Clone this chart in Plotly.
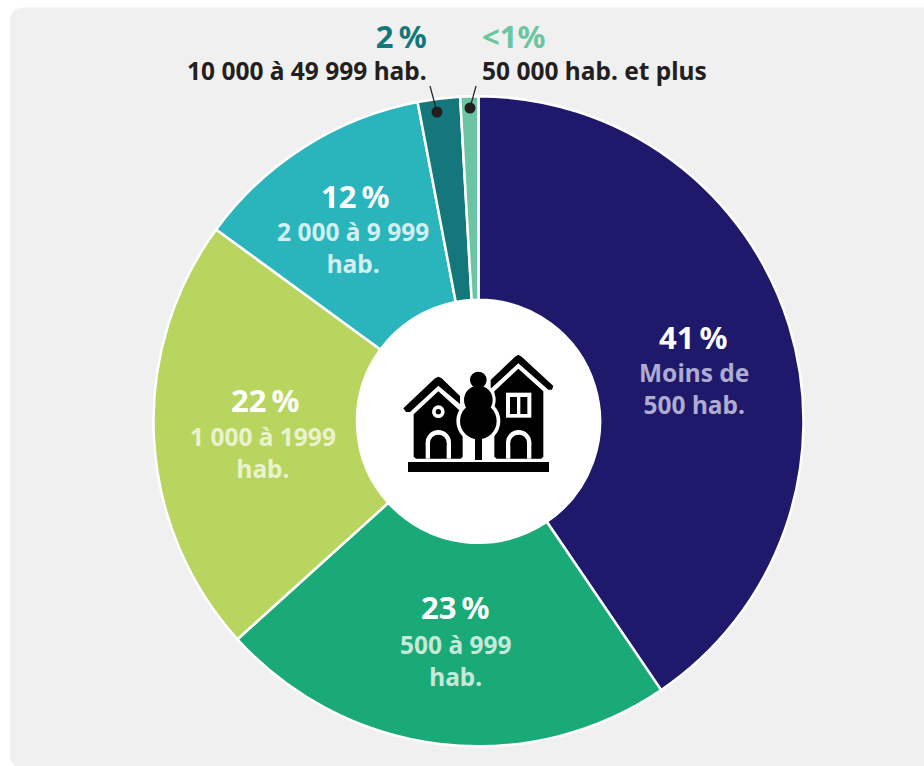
import plotly.graph_objects as go

categories = ["Moins de 500 hab.", "500 à 999 hab.", "1 000 à 1999 hab.", "2 000 à 9 999 hab.",
              "10 000 à 49 999 hab.", "50 000 hab. et plus"]
values = [40.5, 22.8, 21.75, 11.95, 2.1, 0.9]
colors = ["#1e196a", "#1aaa77", "#b8d560", "#2ab5bd", "#13777c", "#6cc5a2"]

W, H = 924, 766
CX, CY, R = 478.5, 421.3, 325.0
HOLE_R = 121.5
FONT = "Noto Sans"
BG = "#f0f0f0"
DARK = "#231f20"
THIN = "\u2009"
BIG, SMALL = 31, 24.5


def px(x):
    return x / W


def py(y):
    return 1 - y / H


def ann(text, x, y, color, size, anchor="center"):
    return dict(text=text, x=px(x), y=py(y), xref="paper", yref="paper", showarrow=False,
                xanchor=anchor, yanchor="middle", align=anchor,
                font=dict(family=FONT, size=size, color=color, weight=700))


def sub_label(line1, line2, x, y, color):
    return ann(f"{line1}<br>{line2}", x, y, color, SMALL)


def top_label(pct, label, pct_color, x, anchor):
    text = f"<span style='font-size:{BIG}px;color:{pct_color}'>{pct}</span><br>{label}"
    return ann(text, x, 51.5, DARK, SMALL, anchor)


def poly(points, fill):
    """Icon polygon, given in the 3x crop's coordinates around (360, 320)."""
    d = ""
    for i, (x, y) in enumerate(points):
        d += f"{'M' if i == 0 else 'L'}{px(360 + x / 3):.5f},{py(320 + y / 3):.5f} "
    return dict(type="path", path=d + "Z", xref="paper", yref="paper", fillcolor=fill,
                line=dict(width=0), layer="above")


def circle(cx, cy, r, fill, layer="above"):
    x, y = 360 + cx / 3, 320 + cy / 3
    r = r / 3
    return dict(type="circle", xref="paper", yref="paper", x0=px(x - r), x1=px(x + r),
                y0=py(y + r), y1=py(y - r), fillcolor=fill, line=dict(width=0), layer=layer)


def arch(x0, x1, top, bottom, fill):
    r = (x1 - x0) / 2
    cx = (x0 + x1) / 2
    return [poly([(x0, top + r), (x1, top + r), (x1, bottom), (x0, bottom)], fill),
            circle(cx, top + r, r, fill)]


shapes = []
# card background
x0, y0, x1, y1, r = 10, 7.5, 940, 768, 14
shapes.append(dict(
    type="path", xref="paper", yref="paper", fillcolor=BG, line=dict(width=0), layer="below",
    path=(f"M{px(x0 + r)},{py(y0)} L{px(x1)},{py(y0)} L{px(x1)},{py(y1)} L{px(x0 + r)},{py(y1)} "
          f"Q{px(x0)},{py(y1)} {px(x0)},{py(y1 - r)} "
          f"L{px(x0)},{py(y0 + r)} Q{px(x0)},{py(y0)} {px(x0 + r)},{py(y0)} Z")))
# white centre
shapes.append(dict(type="circle", xref="paper", yref="paper", x0=px(CX - HOLE_R), x1=px(CX + HOLE_R),
                   y0=py(CY + HOLE_R), y1=py(CY - HOLE_R), fillcolor="white", line=dict(width=0),
                   layer="below"))

K, WT = "black", "white"
# ground
shapes.append(poly([(144, 426), (567, 426), (567, 456), (144, 456)], K))
# left house
shapes.append(poly([(130, 265), (225, 175), (235, 170), (245, 175), (300, 228), (300, 252), (235, 197),
                    (150, 276), (138, 276)], K))
shapes.append(poly([(161, 283), (235, 214), (308, 280), (308, 410), (302, 416), (168, 416), (161, 410)], K))
shapes += arch(197, 273, 330, 416, WT)
shapes += arch(210, 260, 344, 416, K)
shapes.append(circle(235, 275, 19, WT))
shapes.append(circle(235, 275, 8, K))
# right house
shapes.append(poly([(392, 180), (465, 110), (475, 104), (485, 110), (580, 198), (576, 209), (565, 209),
                    (475, 130), (392, 206)], K))
shapes.append(poly([(403, 214), (475, 146), (550, 214), (550, 410), (544, 416), (410, 416), (403, 410)], K))
shapes.append(poly([(438, 218), (514, 218), (514, 293), (438, 293)], WT))
shapes.append(poly([(450, 231), (471, 231), (471, 282), (450, 282)], K))
shapes.append(poly([(481, 231), (502, 231), (502, 282), (481, 282)], K))
shapes += arch(438, 514, 330, 416, WT)
shapes += arch(451, 501, 344, 416, K)
# tree
shapes.append(circle(355, 180, 33, WT))
shapes.append(circle(355, 240, 52, WT))
shapes.append(circle(355, 303, 66, WT))
shapes.append(poly([(335, 345), (375, 345), (375, 420), (335, 420)], WT))
shapes.append(circle(355, 180, 25, K))
shapes.append(circle(355, 240, 43, K))
shapes.append(circle(355, 303, 55, K))
shapes.append(poly([(345, 352), (366, 352), (366, 420), (345, 420)], K))

# leaders
for (xa, ya, xb, yb) in [(430, 86, 437, 112), (476, 86, 470, 108)]:
    shapes.append(dict(type="line", xref="paper", yref="paper", x0=px(xa), y0=py(ya), x1=px(xb), y1=py(yb),
                       line=dict(color=DARK, width=1.2), layer="above"))
    shapes.append(dict(type="circle", xref="paper", yref="paper", x0=px(xb - 5.5), x1=px(xb + 5.5),
                       y0=py(yb + 5.5), y1=py(yb - 5.5), fillcolor=DARK, line=dict(width=0), layer="above"))

annotations = [
    ann(f"41{THIN}%", 693, 337, "white", BIG),
    sub_label("Moins de", "500 hab.", 694, 388, "#aeacd0"),
    ann(f"23{THIN}%", 455, 607, "white", BIG),
    sub_label("500 à 999", "hab.", 456, 660, "#c6e9d9"),
    ann(f"22{THIN}%", 265, 400, "white", BIG),
    sub_label("1 000 à 1999", "hab.", 263, 452.5, "#eaf3cd"),
    ann(f"12{THIN}%", 355, 196, "white", BIG),
    sub_label("2 000 à 9 999", "hab.", 353, 247.5, "#d2eff1"),
    top_label(f"2{THIN}%", "10 000 à 49 999 hab.", "#13777c", 429, "right"),
    top_label("&lt;1%", "50 000 hab. et plus", "#6cc5a2", 480, "left"),
]

fig = go.Figure(go.Pie(
    labels=categories, values=values, sort=False, direction="clockwise", rotation=0,
    hole=HOLE_R / R, textinfo="none", showlegend=False,
    marker=dict(colors=colors, line=dict(color="white", width=2.5)),
    domain=dict(x=[px(CX - R), px(CX + R)], y=[py(CY + R), py(CY - R)]),
))
fig.update_layout(width=W, height=H, margin=dict(l=0, r=0, t=0, b=0), paper_bgcolor="white",
                  plot_bgcolor="white", shapes=shapes, annotations=annotations,
                  font=dict(family=FONT))
fig.write_html("out.html", config=dict(displayModeBar=False),
               post_script="document.body.style.margin='0';document.body.style.overflow='hidden';")
